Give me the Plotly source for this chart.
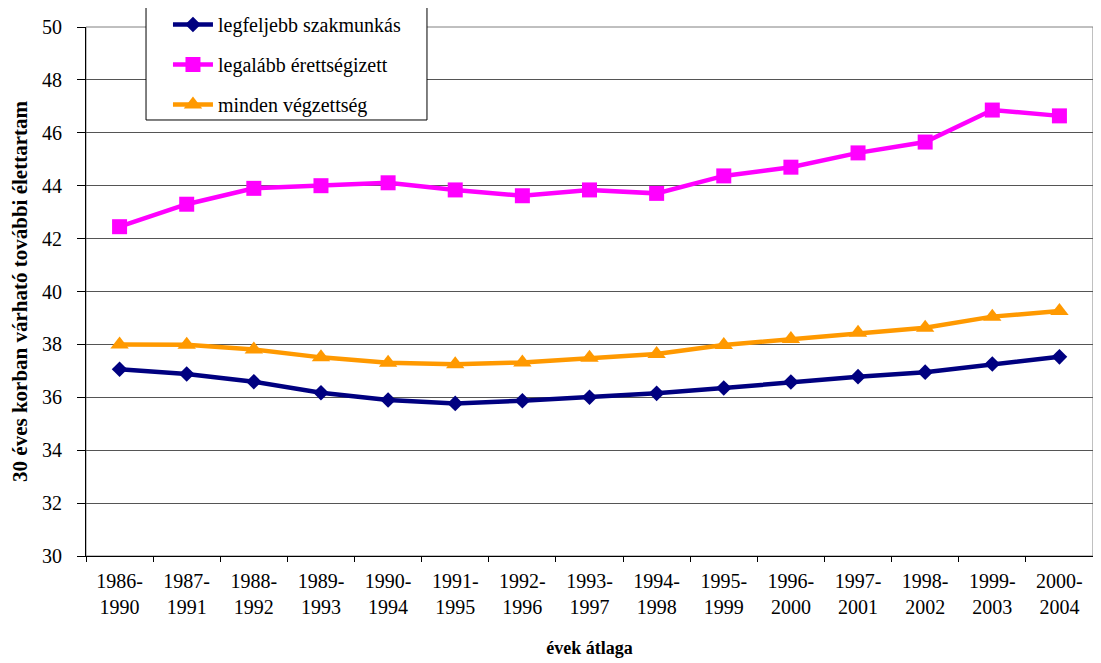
import plotly.graph_objects as go

categories = ["1986-<br>1990", "1987-<br>1991", "1988-<br>1992", "1989-<br>1993", "1990-<br>1994",
              "1991-<br>1995", "1992-<br>1996", "1993-<br>1997", "1994-<br>1998", "1995-<br>1999",
              "1996-<br>2000", "1997-<br>2001", "1998-<br>2002", "1999-<br>2003", "2000-<br>2004"]
szakmunkas = [37.06, 36.88, 36.59, 36.17, 35.90, 35.77, 35.87, 36.00, 36.15, 36.35,
              36.58, 36.78, 36.95, 37.26, 37.53]
erettsegizett = [42.45, 43.30, 43.90, 44.00, 44.11, 43.84, 43.62, 43.84, 43.71, 44.37,
                 44.70, 45.24, 45.65, 46.86, 46.64]
minden = [38.00, 37.99, 37.81, 37.51, 37.31, 37.25, 37.32, 37.50, 37.64, 37.98,
          38.20, 38.44, 38.63, 39.05, 39.26]

FONT = "Liberation Serif"

fig = go.Figure()
fig.add_trace(go.Scatter(x=categories, y=szakmunkas, name="legfeljebb szakmunkás", mode="lines+markers",
                         line=dict(color="#000080", width=4.5), legendgroup="a",
                         marker=dict(symbol="diamond", size=12, color="#000080")))
fig.add_trace(go.Scatter(x=categories, y=erettsegizett, name="legalább érettségizett", mode="lines+markers",
                         line=dict(color="#FF00FF", width=4.5), legendgroup="b",
                         marker=dict(symbol="square", size=15, color="#FF00FF")))
fig.add_trace(go.Scatter(x=categories, y=minden, name="minden végzettség", mode="lines+markers",
                         line=dict(color="#FF9900", width=4.5), legendgroup="c",
                         marker=dict(symbol="triangle-up", size=16, color="#FF9900")))

# page body has an 8px margin: figure occupies 8..1101 x 8..663
fig.update_layout(
    width=1093, height=655,
    margin=dict(l=78, r=8, t=19, b=107, autoexpand=False),
    paper_bgcolor="white", plot_bgcolor="white",
    font=dict(family=FONT, size=20, color="black"),
    showlegend=True,
    legend=dict(x=0.0814, y=1.0416, xanchor="left", yanchor="top",
                bgcolor="rgba(0,0,0,0)", borderwidth=0,
                font=dict(family=FONT, size=20, color="black"), tracegroupgap=11,
                itemwidth=40),
    xaxis=dict(type="category", showline=True, linecolor="black", linewidth=1,
               ticks="outside", tickson="boundaries", ticklen=5, tickcolor="black",
               tickangle=0, ticklabelstandoff=7,
               showgrid=False, tickfont=dict(family=FONT, size=20),
               title=dict(text="<b>évek átlaga</b>", font=dict(family=FONT, size=18), standoff=24),
               range=[-0.5, 14.5]),
    yaxis=dict(range=[30, 50], dtick=2, showline=True, linecolor="black", linewidth=1,
               ticks="outside", ticklen=8, tickcolor="black", ticklabelstandoff=11,
               showgrid=True, gridcolor="#555555", gridwidth=1, zeroline=False,
               tickfont=dict(family=FONT, size=20),
               title=dict(text="<b>30 éves korban várható további élettartam</b>",
                          font=dict(family=FONT, size=21), standoff=12)),
    shapes=[dict(type="rect", xref="paper", yref="paper", x0=0, x1=1, y0=0, y1=1,
                 line=dict(color="#808080", width=1), layer="below"),
            dict(type="rect", xref="paper", yref="paper", x0=0.0596, x1=0.3386, y0=0.8242, y1=1.0416,
                 line=dict(color="black", width=1), fillcolor="white", layer="above")],
)

fig.write_html("out.html")
